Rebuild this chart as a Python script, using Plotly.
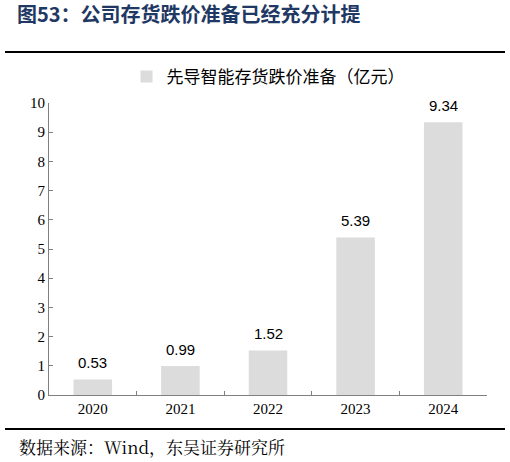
import plotly.graph_objects as go

years = ["2020", "2021", "2022", "2023", "2024"]
reserve = [0.53, 0.99, 1.52, 5.39, 9.34]
y_ticks = list(range(0, 11))

W, H = 510, 462
L, R, T, B = 49, 23, 103, 67
plot_w = W - L - R
plot_h = H - T - B


def px_x(x):
    # pixel x -> paper coordinate
    return (x - L) / plot_w


def px_y(y):
    # pixel y (from top) -> paper coordinate
    return (H - B - y) / plot_h


fig = go.Figure()
fig.add_trace(go.Bar(
    x=years,
    y=reserve,
    name="先导智能存货跌价准备（亿元）",
    marker=dict(color="#DCDCDC", line=dict(width=0)),
    width=0.44,
))

# value labels sit a bit higher above the bars than plotly's "outside" text;
# on a category axis numeric-looking strings are read as indices, so use the index
for i, v in enumerate(reserve):
    fig.add_annotation(
        x=i, y=v, text=f"{v:.2f}", showarrow=False,
        yanchor="middle", yshift=17,
        font=dict(family="Liberation Sans, Arial", size=15, color="#000000"),
    )

fig.update_layout(
    width=W,
    height=H,
    margin=dict(l=L, r=R, t=T, b=B, autoexpand=False),
    plot_bgcolor="white",
    paper_bgcolor="white",
    showlegend=True,
    legend=dict(
        orientation="h", x=0.5, xanchor="center",
        y=1 - 77 / H, yref="container", yanchor="middle",
        bgcolor="rgba(0,0,0,0)",
        font=dict(family="Noto Sans CJK SC", size=17, color="#000000"),
    ),
    xaxis=dict(
        type="category",
        showline=True, linecolor="#808080", linewidth=1,
        ticks="inside", tickson="boundaries", ticklen=4, tickcolor="#808080",
        tickfont=dict(family="Liberation Serif, Times New Roman", size=15, color="#000000"),
        showgrid=False,
    ),
    yaxis=dict(
        range=[0, 10], tickvals=y_ticks, showline=True, linecolor="#808080", linewidth=1,
        ticks="inside", ticklen=4, tickcolor="#808080",
        tickfont=dict(family="Liberation Serif, Times New Roman", size=15, color="#000000"),
        showgrid=False, zeroline=False,
    ),
    title=dict(
        text="<b>图53：公司存货跌价准备已经充分计提</b>",
        x=17 / W, xref="container", xanchor="left",
        y=1 - 15 / H, yref="container", yanchor="middle",
        font=dict(family="Noto Sans CJK SC", size=20, color="#1F3864"),
    ),
    shapes=[
        dict(type="line", xref="paper", yref="paper",
             x0=px_x(5), x1=px_x(505), y0=px_y(52), y1=px_y(52),
             line=dict(color="#000000", width=2)),
        dict(type="line", xref="paper", yref="paper",
             x0=px_x(5), x1=px_x(505), y0=px_y(429), y1=px_y(429),
             line=dict(color="#000000", width=2)),
    ],
)

fig.add_annotation(
    text="数据来源：Wind，东吴证券研究所",
    xref="paper", yref="paper",
    x=px_x(17), y=px_y(446),
    xanchor="left", yanchor="middle", showarrow=False,
    font=dict(family="Noto Serif CJK SC, Noto Sans CJK SC", size=17, color="#000000"),
)

# drop the page's default body margin so the figure sits at the window corner
fig.write_html(
    "out.html",
    config={"displayModeBar": False},
    post_script="document.body.style.margin='0';",
)
